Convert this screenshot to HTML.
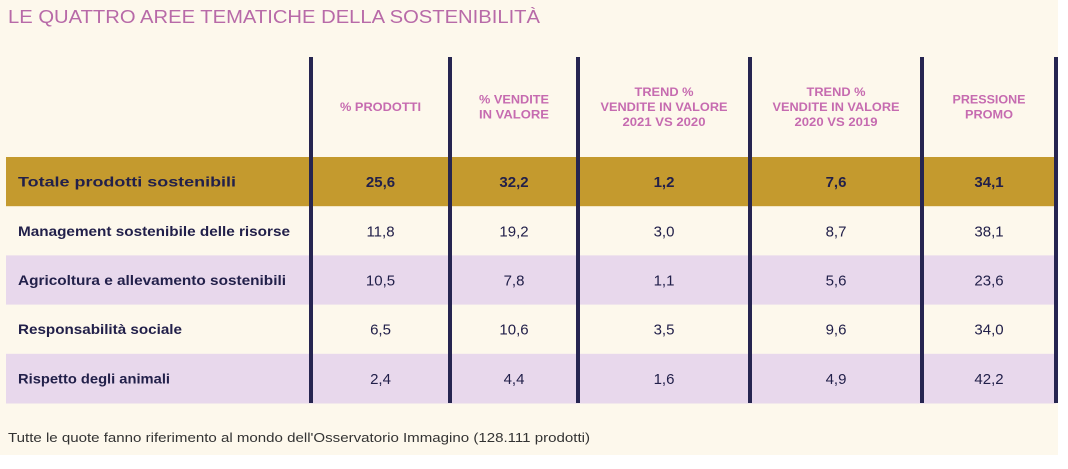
<!DOCTYPE html>
<html><head><meta charset="utf-8"><style>
body{margin:0;width:1068px;height:469px;background:#fff;font-family:"Liberation Sans",sans-serif;overflow:hidden}
#bg{position:absolute;left:0;top:0;width:1058px;height:455px;background:#fdf8ec}
</style></head><body>
<div id="bg"></div>
<svg width="1068" height="469" style="position:absolute;left:0;top:0" id="tbl">
<text x="8" y="23" font-size="18" fill="#b86aa8" textLength="532" lengthAdjust="spacingAndGlyphs">LE QUATTRO AREE TEMATICHE DELLA SOSTENIBILITÀ</text>
<text x="8" y="442" font-size="12.5" fill="#333" textLength="582" lengthAdjust="spacingAndGlyphs">Tutte le quote fanno riferimento al mondo dell'Osservatorio Immagino (128.111 prodotti)</text>
</svg>
<script>
const rowLabels=["Totale prodotti sostenibili","Management sostenibile delle risorse","Agricoltura e allevamento sostenibili","Responsabilità sociale","Rispetto degli animali"];
const headers=[["% PRODOTTI"],["% VENDITE","IN VALORE"],["TREND %","VENDITE IN VALORE","2021 VS 2020"],["TREND %","VENDITE IN VALORE","2020 VS 2019"],["PRESSIONE","PROMO"]];
const colProdotti=["25,6","11,8","10,5","6,5","2,4"];
const colVendite=["32,2","19,2","7,8","10,6","4,4"];
const colTrend21=["1,2","3,0","1,1","3,5","1,6"];
const colTrend20=["7,6","8,7","5,6","9,6","4,9"];
const colPromo=["34,1","38,1","23,6","34,0","42,2"];
const cols=[colProdotti,colVendite,colTrend21,colTrend20,colPromo];
const NS="http://www.w3.org/2000/svg";
const svg=document.getElementById('tbl');
function mk(t,a){const e=document.createElementNS(NS,t);for(const k in a)e.setAttribute(k,a[k]);svg.appendChild(e);return e;}
const labelW=[218,272,268,164,152];
const headW={"% PRODOTTI":81,"% VENDITE":70,"IN VALORE":70,"TREND %":59,"VENDITE IN VALORE":127,"2021 VS 2020":83,"2020 VS 2019":83,"PRESSIONE":73,"PROMO":48};
const lines=[311,450,578,750,922,1056];
const rowTop=157,rowH=49.2;
const fills=["#c49a2e","#fdf8ec","#e8d8ec","#fdf8ec","#e8d8ec"];
rowLabels.forEach((l,i)=>{
  const r=mk('rect',{x:6,y:rowTop+i*rowH,width:1050,height:rowH+0.5,fill:fills[i]});
  
  
  const t=mk('text',{x:18,y:rowTop+i*rowH+rowH/2+5,'font-size':14,'font-weight':'bold',fill:'#22204a',textLength:labelW[i],lengthAdjust:'spacingAndGlyphs'});
  t.textContent=l;
  
  
});
headers.forEach((h,c)=>{
  const cx=(lines[c]+lines[c+1])/2;
  const start=107-(h.length-1)*7.5;
  h.forEach((s,j)=>{
    const t=mk('text',{x:cx,y:start+j*15+4,'font-size':11.5,'font-weight':'bold',fill:'#c66bb0','text-anchor':'middle',textLength:headW[s]||s.length*7,lengthAdjust:'spacingAndGlyphs'});
    t.textContent=s;
    
    
  });
  cols[c].forEach((v,i)=>{
    const t=mk('text',{x:cx,y:rowTop+i*rowH+rowH/2+5.5,'font-size':15,'font-weight':i==0?'bold':'normal',fill:'#22204a','text-anchor':'middle'});
    t.textContent=v;
    
    
  });
});
lines.forEach((x,i)=>{
  const l=mk('rect',{x:x-2,y:57,width:4,height:346,fill:'#262550'});
  
  
});
</script>
</body></html>
